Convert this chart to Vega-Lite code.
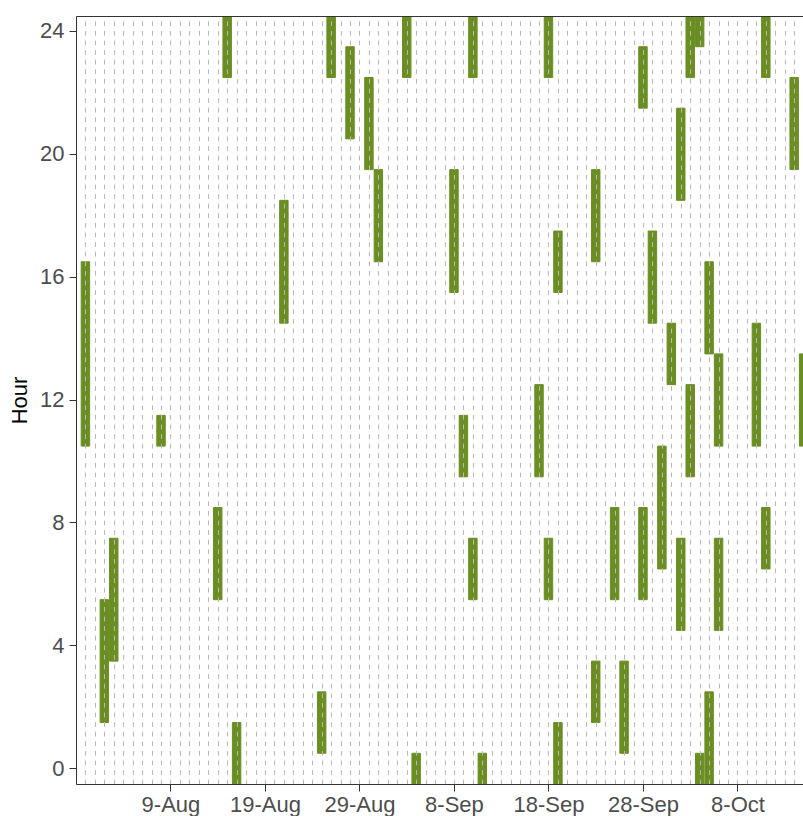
{
  "$schema": "https://vega.github.io/schema/vega-lite/v6.json",
  "autosize": {"type": "none"},
  "padding": {"left": 76, "top": 16, "right": 0, "bottom": 32},
  "width": 727,
  "height": 768,
  "background": "white",
  "config": {"view": {"stroke": null}, "font": "Liberation Sans"},
  "data": {"values": [
    {"date":"2023-07-31","hour":11},{"date":"2023-07-31","hour":12},{"date":"2023-07-31","hour":13},{"date":"2023-07-31","hour":14},{"date":"2023-07-31","hour":15},{"date":"2023-07-31","hour":16},
    {"date":"2023-08-02","hour":2},{"date":"2023-08-02","hour":3},{"date":"2023-08-02","hour":4},{"date":"2023-08-02","hour":5},
    {"date":"2023-08-03","hour":4},{"date":"2023-08-03","hour":5},{"date":"2023-08-03","hour":6},{"date":"2023-08-03","hour":7},
    {"date":"2023-08-08","hour":11},
    {"date":"2023-08-14","hour":6},{"date":"2023-08-14","hour":7},{"date":"2023-08-14","hour":8},
    {"date":"2023-08-15","hour":23},{"date":"2023-08-15","hour":24},
    {"date":"2023-08-16","hour":0},{"date":"2023-08-16","hour":1},
    {"date":"2023-08-21","hour":15},{"date":"2023-08-21","hour":16},{"date":"2023-08-21","hour":17},{"date":"2023-08-21","hour":18},
    {"date":"2023-08-25","hour":1},{"date":"2023-08-25","hour":2},
    {"date":"2023-08-26","hour":23},{"date":"2023-08-26","hour":24},
    {"date":"2023-08-28","hour":21},{"date":"2023-08-28","hour":22},{"date":"2023-08-28","hour":23},
    {"date":"2023-08-30","hour":20},{"date":"2023-08-30","hour":21},{"date":"2023-08-30","hour":22},
    {"date":"2023-08-31","hour":17},{"date":"2023-08-31","hour":18},{"date":"2023-08-31","hour":19},
    {"date":"2023-09-03","hour":23},{"date":"2023-09-03","hour":24},
    {"date":"2023-09-04","hour":0},
    {"date":"2023-09-08","hour":16},{"date":"2023-09-08","hour":17},{"date":"2023-09-08","hour":18},{"date":"2023-09-08","hour":19},
    {"date":"2023-09-09","hour":10},{"date":"2023-09-09","hour":11},
    {"date":"2023-09-10","hour":6},{"date":"2023-09-10","hour":7},{"date":"2023-09-10","hour":23},{"date":"2023-09-10","hour":24},
    {"date":"2023-09-11","hour":0},
    {"date":"2023-09-17","hour":10},{"date":"2023-09-17","hour":11},{"date":"2023-09-17","hour":12},
    {"date":"2023-09-18","hour":6},{"date":"2023-09-18","hour":7},{"date":"2023-09-18","hour":23},{"date":"2023-09-18","hour":24},
    {"date":"2023-09-19","hour":0},{"date":"2023-09-19","hour":1},{"date":"2023-09-19","hour":16},{"date":"2023-09-19","hour":17},
    {"date":"2023-09-23","hour":2},{"date":"2023-09-23","hour":3},{"date":"2023-09-23","hour":17},{"date":"2023-09-23","hour":18},{"date":"2023-09-23","hour":19},
    {"date":"2023-09-25","hour":6},{"date":"2023-09-25","hour":7},{"date":"2023-09-25","hour":8},
    {"date":"2023-09-26","hour":1},{"date":"2023-09-26","hour":2},{"date":"2023-09-26","hour":3},
    {"date":"2023-09-28","hour":6},{"date":"2023-09-28","hour":7},{"date":"2023-09-28","hour":8},{"date":"2023-09-28","hour":22},{"date":"2023-09-28","hour":23},
    {"date":"2023-09-29","hour":15},{"date":"2023-09-29","hour":16},{"date":"2023-09-29","hour":17},
    {"date":"2023-09-30","hour":7},{"date":"2023-09-30","hour":8},{"date":"2023-09-30","hour":9},{"date":"2023-09-30","hour":10},
    {"date":"2023-10-01","hour":13},{"date":"2023-10-01","hour":14},
    {"date":"2023-10-02","hour":5},{"date":"2023-10-02","hour":6},{"date":"2023-10-02","hour":7},{"date":"2023-10-02","hour":19},{"date":"2023-10-02","hour":20},{"date":"2023-10-02","hour":21},
    {"date":"2023-10-03","hour":10},{"date":"2023-10-03","hour":11},{"date":"2023-10-03","hour":12},{"date":"2023-10-03","hour":23},{"date":"2023-10-03","hour":24},
    {"date":"2023-10-04","hour":0},{"date":"2023-10-04","hour":24},
    {"date":"2023-10-05","hour":0},{"date":"2023-10-05","hour":1},{"date":"2023-10-05","hour":2},{"date":"2023-10-05","hour":14},{"date":"2023-10-05","hour":15},{"date":"2023-10-05","hour":16},
    {"date":"2023-10-06","hour":5},{"date":"2023-10-06","hour":6},{"date":"2023-10-06","hour":7},{"date":"2023-10-06","hour":11},{"date":"2023-10-06","hour":12},{"date":"2023-10-06","hour":13},
    {"date":"2023-10-10","hour":11},{"date":"2023-10-10","hour":12},{"date":"2023-10-10","hour":13},{"date":"2023-10-10","hour":14},
    {"date":"2023-10-11","hour":7},{"date":"2023-10-11","hour":8},{"date":"2023-10-11","hour":23},{"date":"2023-10-11","hour":24},
    {"date":"2023-10-14","hour":20},{"date":"2023-10-14","hour":21},{"date":"2023-10-14","hour":22},
    {"date":"2023-10-15","hour":11},{"date":"2023-10-15","hour":12},{"date":"2023-10-15","hour":13}
  ]},
  "resolve": {"axis": {"x": "independent"}},
  "layer": [
    {
      "mark": {"type": "bar", "orient": "vertical", "width": 8.45, "fill": "#6B8E23", "stroke": "#6B8E23", "strokeWidth": 1, "clip": true},
      "encoding": {
        "x": {
          "field": "date", "type": "temporal",
          "scale": {"type": "utc", "padding": 0, "nice": false, "domain": [
            {"year": 2023, "month": "jul", "date": 30, "minutes": 5, "utc": true},
            {"year": 2023, "month": "oct", "date": 14, "hours": 22, "minutes": 25, "utc": true}
          ]},
          "axis": {
            "orient": "bottom", "title": null,
            "tickCount": {"interval": "day", "step": 1},
            "grid": true, "gridColor": "#b8b8b8", "gridDash": [4.8, 4.8], "gridWidth": 1,
            "zindex": 1,
            "domain": true, "domainColor": "#333333", "domainWidth": 1,
            "tickColor": "#333333", "tickSize": 7, "tickWidth": 1,
            "tickOpacity": {"condition": {"test": "datum.value >= utc(2023,7,9) && round((datum.value - utc(2023,7,9)) / 86400000) % 10 === 0", "value": 1}, "value": 0},
            "labelExpr": "(datum.value >= utc(2023,7,9) && round((datum.value - utc(2023,7,9)) / 86400000) % 10 === 0) ? utcFormat(datum.value, '%-d-%b') : ''",
            "labelFontSize": 22, "labelColor": "#4D4D4D", "labelPadding": 3,
            "labelOverlap": false, "labelFlush": false
          }
        },
        "y": {
          "field": "hour", "type": "ordinal",
          "scale": {"domain": [24,23,22,21,20,19,18,17,16,15,14,13,12,11,10,9,8,7,6,5,4,3,2,1,0], "paddingInner": 0, "paddingOuter": 0},
          "axis": {
            "values": [0, 4, 8, 12, 16, 20, 24],
            "title": "Hour", "titleFontSize": 22, "titleFontWeight": "normal", "titleColor": "#000000", "titlePadding": 8,
            "labelFontSize": 22, "labelColor": "#4D4D4D", "labelPadding": 5,
            "tickSize": 7, "tickColor": "#333333", "tickWidth": 1,
            "domain": true, "domainColor": "#333333", "domainWidth": 1,
            "grid": false, "zindex": 2
          }
        }
      }
    },
    {
      "mark": {"type": "rule", "opacity": 0},
      "encoding": {
        "x": {
          "datum": {"year": 2023, "month": "aug", "date": 1, "utc": true}, "type": "temporal",
          "axis": {"orient": "top", "title": null, "labels": false, "ticks": false, "grid": false, "domain": true, "domainColor": "#333333", "domainWidth": 1, "zindex": 2}
        }
      }
    }
  ]
}
